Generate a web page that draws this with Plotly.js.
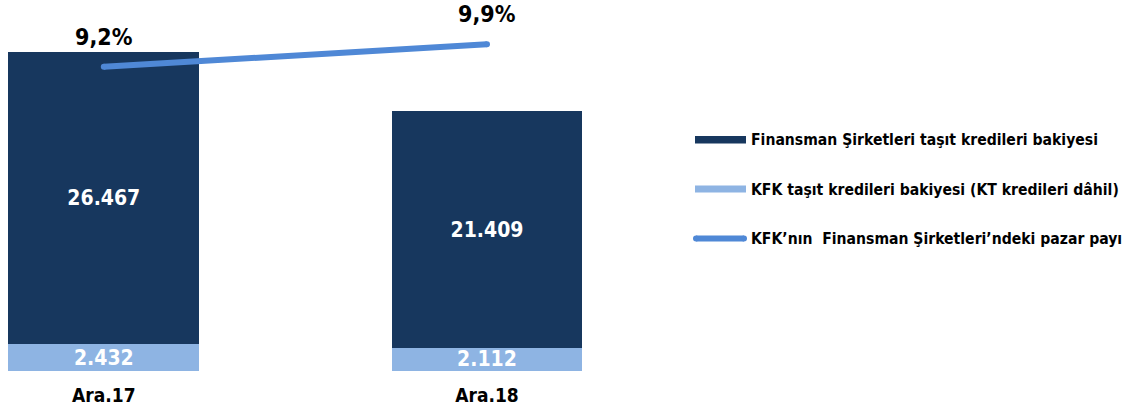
<!DOCTYPE html>
<html>
<head>
<meta charset="utf-8">
<script src="https://cdn.plot.ly/plotly-3.0.1.min.js"></script>
<style>html,body{margin:0;padding:0;background:#fff;}#chart{width:1137px;height:412px;}</style>
</head>
<body>
<div id="chart"></div>
<script>
// ---- data ----
const categories = ['Ara.17', 'Ara.18'];
const fsBalance = [26467, 21409];     // Finansman Şirketleri taşıt kredileri bakiyesi
const kfkBalance = [2432, 2112];      // KFK taşıt kredileri bakiyesi (KT kredileri dâhil)
const marketShare = [9.2, 9.9];       // KFK'nın pazar payı (%)
const seriesNames = [
  'Finansman Şirketleri taşıt kredileri bakiyesi',
  'KFK taşıt kredileri bakiyesi (KT kredileri dâhil)',
  'KFK’nın  Finansman Şirketleri’ndeki pazar payı'
];

const FONT = '"DejaVu Sans Condensed", "Liberation Sans", Arial, sans-serif';
const DARK = '#17375E', LIGHT = '#8EB4E3', LINE = '#4F88D6';

const traces = [
  {
    type: 'bar', x: categories, y: kfkBalance, name: seriesNames[1],
    marker: {color: LIGHT}, width: 0.498,
    texttemplate: '%{y:,d}', textposition: 'inside', insidetextanchor: 'middle',
    constraintext: 'none', textangle: 0,
    textfont: {family: FONT, size: 21, color: '#ffffff', weight: 'bold'},
    hoverinfo: 'skip'
  },
  {
    type: 'bar', x: categories, y: fsBalance, name: seriesNames[0],
    marker: {color: DARK}, width: 0.498,
    texttemplate: '%{y:,d}', textposition: 'inside', insidetextanchor: 'middle',
    constraintext: 'none', textangle: 0,
    textfont: {family: FONT, size: 21, color: '#ffffff', weight: 'bold'},
    hoverinfo: 'skip'
  },
  {
    type: 'scatter', mode: 'lines+markers', x: categories, y: marketShare, yaxis: 'y2',
    name: seriesNames[2],
    line: {color: LINE, width: 6},
    marker: {color: LINE, size: 6, line: {width: 0}},
    hoverinfo: 'skip'
  }
];

// Percent labels above line points
const annotations = marketShare.map((v, i) => ({
  x: categories[i], y: v, xref: 'x', yref: 'y2',
  text: v.toFixed(1).replace('.', ',') + '%',
  showarrow: false, yshift: 30, xanchor: 'center', yanchor: 'middle',
  font: {family: FONT, size: 23, color: '#000000', weight: 'bold'}
}));

// Custom legend (plot area is 680px wide, 371px tall)
const PW = 680, PH = 371;
const px = v => v / PW;
const py = v => 1 - v / PH;
const legendY = [139.5, 189.5, 238.5];
const legendOrder = [0, 1, 2];
const shapes = [
  {type: 'rect', xref: 'paper', yref: 'paper', x0: px(695), x1: px(746), y0: py(136), y1: py(143.5),
   fillcolor: DARK, line: {width: 0}},
  {type: 'rect', xref: 'paper', yref: 'paper', x0: px(695), x1: px(746), y0: py(185.5), y1: py(192.5),
   fillcolor: LIGHT, line: {width: 0}},
  {type: 'line', xref: 'paper', yref: 'paper', x0: px(696), x1: px(744), y0: py(238.5), y1: py(238.5),
   line: {color: LINE, width: 6}},
  {type: 'circle', xref: 'paper', yref: 'paper', x0: px(693), x1: px(699), y0: py(235.5), y1: py(241.5),
   fillcolor: LINE, line: {width: 0}},
  {type: 'circle', xref: 'paper', yref: 'paper', x0: px(741), x1: px(747), y0: py(235.5), y1: py(241.5),
   fillcolor: LINE, line: {width: 0}}
];
legendOrder.forEach((k, i) => {
  annotations.push({
    xref: 'paper', yref: 'paper', x: px(749), y: py(legendY[i]),
    xanchor: 'left', yanchor: 'middle', showarrow: false,
    text: seriesNames[k].replace('  ', '&nbsp; '),
    font: {family: FONT, size: 15.6, color: '#000000', weight: 'bold'}
  });
});

const layout = {
  width: 1137, height: 412,
  margin: {l: 0, r: 1137 - PW, t: 0, b: 412 - PH},
  paper_bgcolor: '#ffffff', plot_bgcolor: '#ffffff',
  separators: ',.',
  barmode: 'stack', showlegend: false,
  xaxis: {
    type: 'category', range: [-0.2709, 1.5037],
    showgrid: false, zeroline: false, showline: false, ticks: '',
    tickfont: {family: FONT, size: 19, color: '#000000', weight: 'bold'},
    ticklabelstandoff: 11, fixedrange: true
  },
  yaxis: {range: [0, 33605], visible: false, fixedrange: true},
  yaxis2: {range: [-0.31, 11.284], overlaying: 'y', visible: false, fixedrange: true},
  shapes: shapes,
  annotations: annotations,
  font: {family: FONT}
};

Plotly.newPlot('chart', traces, layout, {displayModeBar: false, staticPlot: true});
</script>
</body>
</html>
